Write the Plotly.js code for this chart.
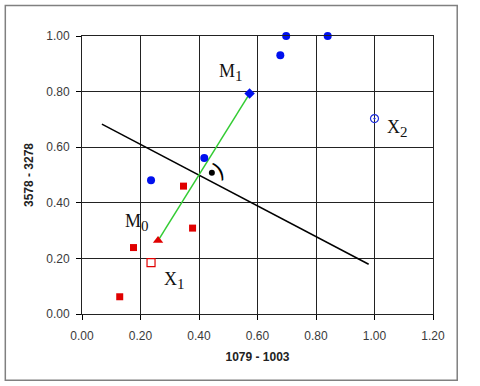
<!DOCTYPE html>
<html><head><meta charset="utf-8">
<script src="https://cdn.plot.ly/plotly-3.0.1.min.js"></script>
<style>html,body{margin:0;padding:0;background:#fff}#chart{width:480px;height:386px}</style>
</head><body><div id="chart"></div>
<script>
// data
const blueX = [0.236, 0.418, 0.678, 0.698, 0.840];
const blueY = [0.481, 0.561, 0.931, 1.000, 1.000];
const redX = [0.129, 0.176, 0.347, 0.378];
const redY = [0.062, 0.239, 0.460, 0.309];
const m0 = {x: 0.260, y: 0.264};
const m1 = {x: 0.573, y: 0.793};
const x1 = {x: 0.236, y: 0.185};
const x2 = {x: 1.000, y: 0.703};
const boundaryX = [0.068, 0.980];
const boundaryY = [0.683, 0.179];
const midX = [0.444];
const midY = [0.508];
const tickVals = [0, 0.2, 0.4, 0.6, 0.8, 1.0, 1.2];

const traces = [
  {x: boundaryX, y: boundaryY, mode: 'lines', line: {color: '#000', width: 1.5}},
  {x: [m0.x, m1.x], y: [m0.y, m1.y], mode: 'lines', line: {color: '#33cc33', width: 1.5}},
  {x: blueX, y: blueY, mode: 'markers', marker: {symbol: 'circle', size: 8, color: '#0010ee'}},
  {x: redX, y: redY, mode: 'markers', marker: {symbol: 'square', size: 7, color: '#e00000'}},
  {x: [m1.x], y: [m1.y], mode: 'markers', marker: {symbol: 'diamond', size: 8, color: '#0010ee'}},
  {x: [m0.x], y: [m0.y], mode: 'markers', marker: {symbol: 'triangle-up', size: 9, color: '#e00000'}},
  {x: [x1.x], y: [x1.y], mode: 'markers', marker: {symbol: 'square-open', size: 8, color: '#e00000', line: {width: 1.2}}},
  {x: [x2.x], y: [x2.y], mode: 'markers', marker: {symbol: 'circle-open-dot', size: 8, color: '#2030dd', line: {width: 1.2}}},
  {x: midX, y: midY, mode: 'markers', marker: {symbol: 'circle', size: 6, color: '#000'}}
].map(t => Object.assign({type: 'scatter', hoverinfo: 'none', cliponaxis: false}, t));

const serif = {family: 'Liberation Serif, Times New Roman, serif', size: 18, color: '#111'};
const sub = d => '<sub><span style="font-size:15px">' + d + '</span></sub>';
const layout = {
  width: 480, height: 386,
  margin: {l: 82, r: 47, t: 36, b: 72},
  paper_bgcolor: '#fff', plot_bgcolor: '#fff',
  showlegend: false,
  font: {family: 'Liberation Sans, Arial, sans-serif', size: 12, color: '#3a3a3a'},
  xaxis: {
    range: [0, 1.2], tickvals: tickVals, tickformat: '.2f', ticks: 'outside', ticklen: 5, tickcolor: '#000',
    showline: true, linecolor: '#222', mirror: true, showgrid: true, gridcolor: '#222', gridwidth: 1,
    zeroline: false, ticklabelstandoff: 6,
    title: {text: '<b>1079 - 1003</b>', font: {size: 12, color: '#222'}, standoff: 10}
  },
  yaxis: {
    range: [0, 1.0], dtick: 0.2, tickformat: '.2f', ticks: 'outside', ticklen: 5, tickcolor: '#000',
    showline: true, linecolor: '#222', mirror: true, showgrid: true, gridcolor: '#222', gridwidth: 1,
    zeroline: false, ticklabelstandoff: 4,
    title: {text: '<b>3578 - 3278</b>', font: {size: 12, color: '#222'}, standoff: 10}
  },
  annotations: [
    {x: 0.51, y: 0.87, text: 'M' + sub('1'), showarrow: false, font: serif},
    {x: 0.188, y: 0.33, text: 'M' + sub('0'), showarrow: false, font: serif},
    {x: 0.316, y: 0.12, text: 'X' + sub('1'), showarrow: false, font: serif},
    {x: 1.078, y: 0.668, text: 'X' + sub('2'), showarrow: false, font: serif},
    {x: 0.468, y: 0.518, text: ')', showarrow: false, textangle: -30,
     font: {family: 'DejaVu Sans, sans-serif', size: 22, color: '#000'}}
  ],
  shapes: [
    {type: 'rect', xref: 'paper', yref: 'paper', x0: -0.2185, x1: 1.069, y0: -0.238, y1: 1.110,
     line: {color: '#808080', width: 1.5}, fillcolor: 'rgba(0,0,0,0)'}
  ]
};
Plotly.newPlot('chart', traces, layout, {staticPlot: true, displayModeBar: false});
</script></body></html>
